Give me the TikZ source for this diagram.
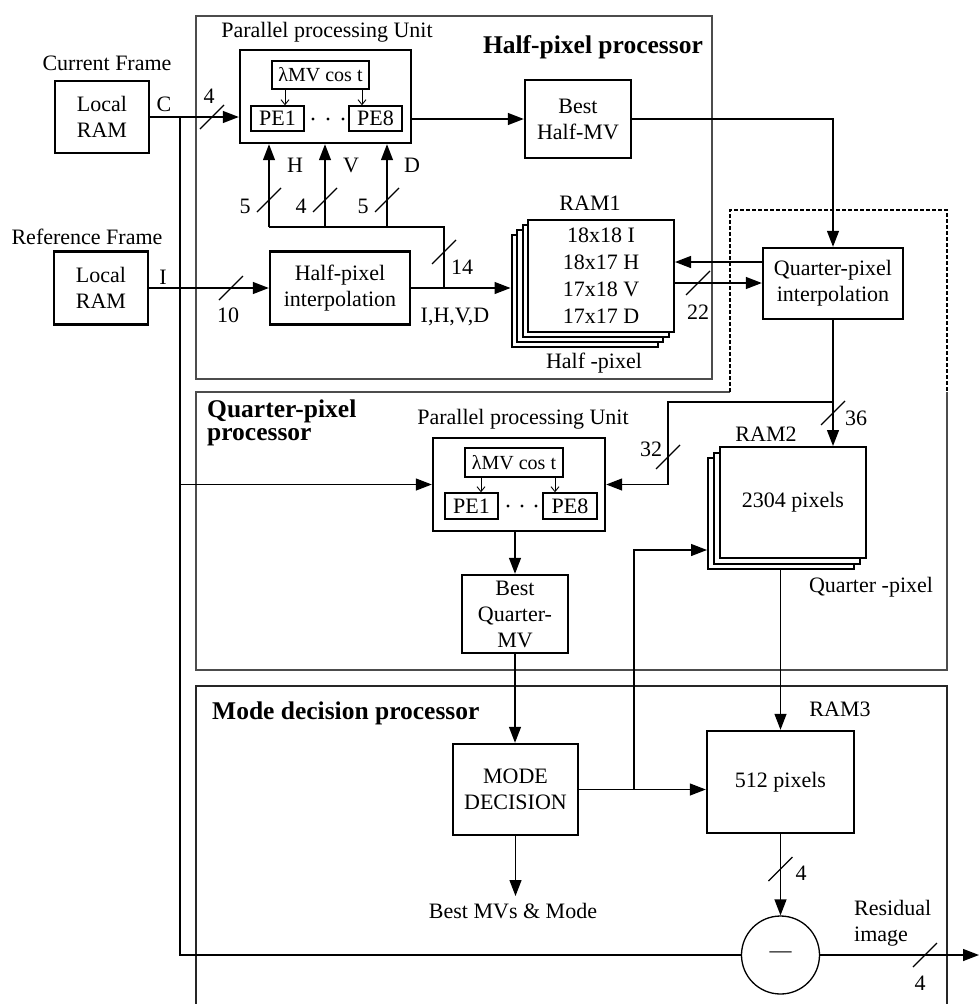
\documentclass[tikz,border=0pt]{standalone}
\usepackage{fontspec}
\setmainfont{Liberation Serif}
\usetikzlibrary{arrows.meta}
\newcommand{\busmark}[1]{\draw[conn] (#1) ++(-12,12) -- ++(24,-24);}
\begin{document}
\begin{tikzpicture}[x=1pt,y=-1pt,
  font=\fontsize{22}{26}\selectfont,
  blk/.style={draw, line width=2.4pt, fill=white, align=center, inner sep=0pt},
  stk/.style={draw, line width=2pt, fill=white, align=center, inner sep=0pt},
  sub/.style={draw, line width=1.3pt, fill=white, inner sep=0pt},
  lbl/.style={inner sep=0pt, align=center},
  ttl/.style={inner sep=0pt, font=\fontsize{25.5}{23}\selectfont\bfseries},
  conn/.style={line width=1.3pt},
  arr/.style={conn, -{Triangle[length=16pt,width=12pt]}},
  sarr/.style={line width=0.9pt, -{Straight Barb[length=5pt,width=8pt]}},
  frame/.style={line width=1.4pt, draw=black!70},
  dframe/.style={line width=1.4pt, draw=black, dash pattern=on 4pt off 2pt},
]
\useasboundingbox (0,0) rectangle (979,1004);

% ---------- processor frames ----------
\draw[frame] (196,16) rectangle (712,379);
\draw[frame] (730,392) -- (196,392) -- (196,670) -- (947,670) -- (947,392);
\draw[dframe] (730,392) -- (730,210) -- (947,210) -- (947,392);
\draw[frame, draw=black!85] (196,1004) -- (196,686) -- (947,686) -- (947,1004);

\node[ttl, anchor=base east] at (703,53) {Half-pixel processor};
\node[ttl, anchor=base west] at (207,417) {Quarter-pixel};
\node[ttl, anchor=base west] at (207,440) {processor};
\node[ttl, anchor=base west] at (212,719) {Mode decision processor};

% ---------- inputs ----------
\node[lbl] (curlbl) at (107,63) {Current Frame};
\node[blk, minimum width=94pt, minimum height=72pt] (lram1) at (102,117) {Local\\RAM};
\node[lbl] (clbl) at (164,104) {C};
\node[lbl] (reflbl) at (87,237) {Reference Frame};
\node[blk, minimum width=94pt, minimum height=73pt] (lram2) at (101,288) {Local\\RAM};
\node[lbl] (ilbl) at (163,277) {I};

% ---------- half-pixel processor ----------
\node[lbl] (ppu1lbl) at (327,32) {Parallel processing Unit};
\node[blk, minimum width=171pt, minimum height=93pt] (ppu1) at (325.5,96.5) {};
\node[sub, minimum width=97pt, minimum height=28pt, font=\fontsize{20}{24}\selectfont] (cost1) at (320.5,75) {λMV cos t};
\node[sub, minimum width=53pt, minimum height=25pt] (pe1a) at (277.5,118.5) {PE1};
\node[sub, minimum width=53pt, minimum height=25pt] (pe8a) at (375.5,118.5) {PE8};
\fill (313,119) circle (1.6) (328,119) circle (1.6) (343,119) circle (1.6);
\draw[sarr] (cost1.south -| 285,0) -- (pe1a.north -| 285,0);
\draw[sarr] (cost1.south -| 362,0) -- (pe8a.north -| 362,0);

\node[blk, minimum width=106pt, minimum height=78pt] (bhmv) at (578,119) {Best\\Half-MV};
\node[blk, minimum width=140pt, minimum height=73pt] (hpi) at (340,288) {Half-pixel\\interpolation};

% RAM1 stack
\node[stk, minimum width=146pt, minimum height=112pt] (ram1d) at (584.5,291) {};
\node[stk, minimum width=146pt, minimum height=112pt] (ram1c) at (590,286) {};
\node[stk, minimum width=146pt, minimum height=112pt] (ram1b) at (595.5,281) {};
\node[stk, minimum width=146pt, minimum height=112pt, font=\fontsize{22}{27}\selectfont] (ram1) at (601,276) {18x18 I\\18x17 H\\17x18 V\\17x17 D};
\node[lbl] (ram1lbl) at (590,203) {RAM1};
\node[lbl] (halflbl) at (594,363) {Half -pixel};

\node[blk, minimum width=140pt, minimum height=71pt] (qpi) at (833,283.5) {Quarter-pixel\\interpolation};

% ---------- quarter-pixel processor ----------
\node[lbl] (ppu2lbl) at (523,419) {Parallel processing Unit};
\node[blk, minimum width=172pt, minimum height=93pt] (ppu2) at (519,484.5) {};
\node[sub, minimum width=98pt, minimum height=29pt, font=\fontsize{20}{24}\selectfont] (cost2) at (514,462.5) {λMV cos t};
\node[sub, minimum width=53pt, minimum height=26pt] (pe1b) at (471.5,506) {PE1};
\node[sub, minimum width=54pt, minimum height=26pt] (pe8b) at (570,506) {PE8};
\fill (508,506) circle (1.6) (522,506) circle (1.6) (536,506) circle (1.6);
\draw[sarr] (cost2.south -| 481,0) -- (pe1b.north -| 481,0);
\draw[sarr] (cost2.south -| 555,0) -- (pe8b.north -| 555,0);

\node[blk, minimum width=106pt, minimum height=78pt] (bq) at (515,614) {Best\\Quarter-\\MV};

% RAM2 stack
\node[stk, minimum width=146pt, minimum height=111pt] (ram2c) at (781,513.5) {};
\node[stk, minimum width=146pt, minimum height=111pt] (ram2b) at (787,508) {};
\node[stk, minimum width=146pt, minimum height=111pt] (ram2) at (793,502.5) {2304 pixels};
\node[lbl] (ram2lbl) at (766,434) {RAM2};
\node[lbl] (qlbl) at (871,587) {Quarter -pixel};

% ---------- mode decision processor ----------
\node[blk, minimum width=125pt, minimum height=91pt] (md) at (515.5,789.5) {MODE\\DECISION};
\node[blk, minimum width=147pt, minimum height=102pt] (ram3) at (780.5,782) {512 pixels};
\node[lbl] (ram3lbl) at (840,709) {RAM3};
\node[draw, circle, line width=1.3pt, minimum size=78pt, inner sep=0pt] (circ) at (780.5,955) {—};
\node[lbl] (bmv) at (513,911) {Best MVs \& Mode};
\node[lbl, align=left, anchor=west] (resid) at (854,923) {Residual\\image};
\coordinate (outp) at (979,955);

% ---------- connectors ----------
\coordinate (cj) at (180,117);
\draw[arr] (lram1.east) -- (lram1.east -| ppu1.west);
\draw[conn] (cj) |- (circ.west);
\draw[arr] (cj |- ppu2.west) -- (ppu2.west);
\busmark{212,117}
\node[lbl] at (209,96) {4};

\draw[arr] (ppu1.east |- bhmv.west) -- (bhmv.west);
\draw[arr] (bhmv.east) -| (qpi.north);

\draw[arr] (lram2.east) -- (lram2.east -| hpi.west);
\busmark{231,288}
\node[lbl] at (228,315) {10};

\coordinate (hb) at (444,227);
\coordinate (hH) at (269,227);
\coordinate (hV) at (325,227);
\coordinate (hD) at (387,227);
\draw[arr] (hpi.east) -- (hpi.east -| ram1d.west);
\draw[conn] (hpi.east -| hb) -- (hb) -- (hH);
\draw[arr] (hH) -- (hH |- ppu1.south);
\draw[arr] (hV) -- (hV |- ppu1.south);
\draw[arr] (hD) -- (hD |- ppu1.south);
\busmark{269,200} \busmark{325,200} \busmark{387,200} \busmark{444,252}
\node[lbl] at (245,206) {5};
\node[lbl] at (301,206) {4};
\node[lbl] at (363,206) {5};
\node[lbl] at (295,165) {H};
\node[lbl] at (351,165) {V};
\node[lbl] at (412,165) {D};
\node[lbl] at (462,267) {14};
\node[lbl] at (455,317) {I,H,V,D};

\draw[arr] (qpi.west |- 0,262) -- (ram1.east |- 0,262);
\draw[arr] (ram1.east |- 0,283) -- (qpi.west |- 0,283);
\busmark{698,283}
\node[lbl] at (698,312) {22};

\coordinate (q32) at (668,402);
\draw[arr] (qpi.south) -- (qpi.south |- ram2.north);
\draw[arr] (qpi.south |- q32) -- (q32) |- (ppu2.east);
\busmark{833,413} \busmark{668,457}
\node[lbl] at (856,418) {36};
\node[lbl] at (651,449) {32};

\draw[arr] (ppu2.south -| bq.north) -- (bq.north);
\draw[arr] (bq.south) -- (bq.south |- md.north);

\coordinate (mj) at (634,789.5);
\draw[arr] (md.east) -- (md.east -| ram3.west);
\draw[arr] (mj) |- (ram2c.west |- 0,550);
\draw[arr] (ram2c.south -| ram3.north) -- (ram3.north);
\draw[arr] (ram3.south) -- (ram3.south |- circ.north);
\busmark{780.5,869}
\node[lbl] at (801,873) {4};
\draw[arr, shorten >=7pt] (md.south) -- (md.south |- bmv.north);
\draw[arr] (circ.east) -- (outp);
\busmark{925,955}
\node[lbl] at (920,983) {4};
\end{tikzpicture}
\end{document}
